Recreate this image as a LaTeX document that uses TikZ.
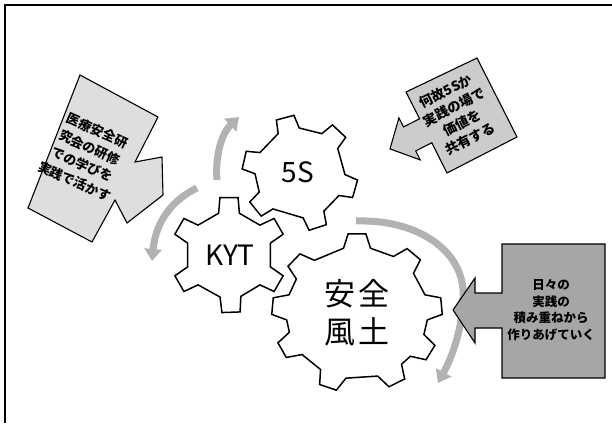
\documentclass[tikz,border=0pt]{standalone}
\usepackage{fontspec}
\newfontfamily\jp{Noto Sans CJK JP}
\usetikzlibrary{arrows.meta}
\tikzset{
  gearline/.style={draw=black, line width=1.5pt, fill=white, line join=miter},
  callout/.style={draw=black, line width=1.1pt, line join=miter},
  rotarrow/.style={draw=black!30, line width=7pt, -{Triangle[width=17pt,length=12pt]}},
  calltext/.style={font=\jp\bfseries\fontsize{13}{18.5}\selectfont, align=center, inner sep=0pt},
  geartext/.style={font=\jp\fontsize{28}{30}\selectfont, inner sep=0pt},
}
% #1 first angle, #2 increasing list of tooth angles, #3 r in, #4 r out, #5 half base, #6 half tip
\newcommand{\geardraw}[6]{%
  \draw[gearline] ({#1-#5}:#3) \foreach \t in {#2} {
     -- ({\t-#5}:#3) -- ({\t-#6}:#4) -- ({\t+#6}:#4) -- ({\t+#5}:#3) } -- cycle;
}
\begin{document}
\begin{tikzpicture}[x=1pt,y=1pt]
\useasboundingbox (0,0) rectangle (612,423);
\fill[white] (0,0) rectangle (612,423);
% frame
\draw[line width=1.6pt] (5,0) -- (5,418) -- (612,418);

% rotation arrows
\coordinate (a1s) at (217,243);
\coordinate (a1e) at (239,306);
\coordinate (a2s) at (197,235);
\coordinate (a2e) at (152,162);
\coordinate (a3s) at (356,202);
\coordinate (a3m) at (463,125);
\coordinate (a3e) at (438,40);
\draw[rotarrow] (a1s) .. controls (215,268) and (222,290) .. (a1e);
\draw[rotarrow] (a2s) .. controls (176,225) and (156,205) .. (a2e);
\draw[rotarrow] (a3s) .. controls (420,204) and (466,170) .. (a3m) .. controls (462,92) and (452,66) .. (a3e);

% gears
\begin{scope}[shift={(300,250)}]
  \geardraw{-141}{-141,-72,-16,47,105,167}{45}{58}{14}{9}
\end{scope}
\begin{scope}[shift={(229,168)}]
  \geardraw{-150}{-150,-88,-30,30,90,150}{43}{58}{14}{9}
\end{scope}
\begin{scope}[shift={(357,110)}, xscale=1.04, yscale=0.97]
  \geardraw{-152}{-152,-110,-62,-30,5,48,90,138,175}{68}{82}{11}{6}
\end{scope}
\node[geartext] (g5s) at (298,251) {5S};
\node[geartext] (gkyt) at (230,168) {KYT};
\node[geartext, font=\jp\fontsize{31}{38}\selectfont, align=center] (gsafe) at (357,110) {安\hspace{3pt}全\\風\hspace{3pt}土};

% left callout
\draw[callout, fill=black!13] (80,348) -- (158,306) -- (135,261) -- (162,266) -- (163,228)
   -- (127,200) -- (115,223) -- (92,181) -- (28,215) -- cycle;
\node[calltext, rotate=-24] (cl) at (86,267) {医療安全研\\究会の研修\\での学びを\\実践で活かす};

% upper right callout
\draw[callout, fill=black!20] (477,365) -- (517,286) -- (447,250) -- (431.8,280.2) -- (415.7,272.1)
   -- (420.2,263.1) -- (390,274.1) -- (398.9,305.1) -- (403.5,296.1) -- (419.6,304.2) -- (406,331) -- cycle;
\node[calltext, rotate=27, font=\jp\bfseries\fontsize{13.5}{17.7}\selectfont] (cr) at (458,308) {何故5Sか\\実践の場で\\価値を\\共有する};

% right callout
\draw[callout, fill=black!35] (502,179) -- (605,179) -- (605,45) -- (502,45) -- (502,95) -- (475,95)
   -- (475,80) -- (453,113) -- (475,145) -- (475,130) -- (502,130) -- cycle;
\node[calltext, font=\jp\bfseries\fontsize{12.5}{16.7}\selectfont] (cb) at (551,113) {日々の\\実践の\\積み重ねから\\作りあげていく};
\end{tikzpicture}
\end{document}
